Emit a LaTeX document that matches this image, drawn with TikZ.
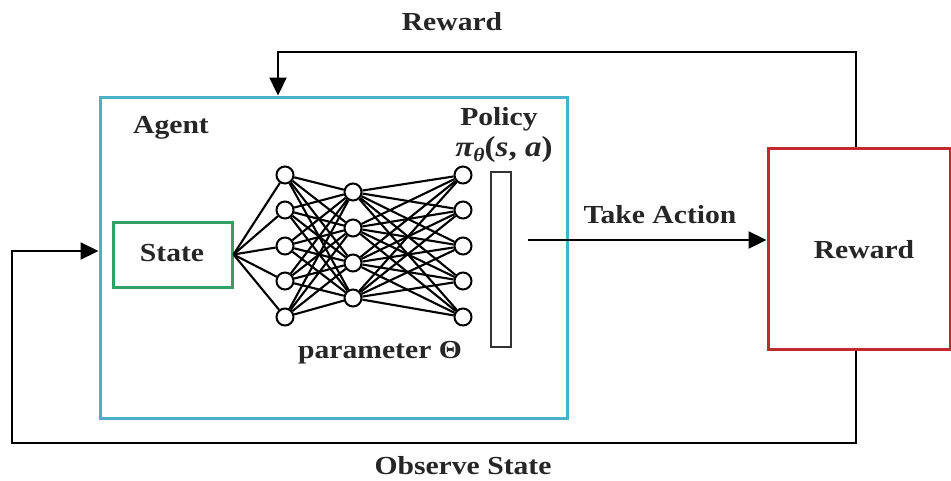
\documentclass[tikz,border=0pt]{standalone}
\usepackage{fontspec}
\setmainfont[FakeStretch=1.14]{Liberation Serif}
\usetikzlibrary{arrows.meta}
\definecolor{agentblue}{RGB}{72,178,206}
\definecolor{stategreen}{RGB}{52,160,100}
\definecolor{envred}{RGB}{196,40,48}
\tikzset{
  lbl/.style={font=\fontsize{26}{30}\selectfont\bfseries, inner sep=0pt, text=black!85},
  frame/.style={draw, line width=3pt, inner sep=0pt},
  neuron/.style={circle, draw, line width=2pt, fill=white, minimum size=17pt, inner sep=0pt},
  wire/.style={line width=2.1pt},
  flow/.style={line width=2.3pt, -{Triangle[length=18pt,width=17pt]}},
}
\begin{document}
\begin{tikzpicture}[x=1pt,y=-1pt]
\useasboundingbox (0,0) rectangle (951,480);
\fill[white] (0,0) rectangle (951,480);

% agent and environment boxes
\node[frame, draw=agentblue, minimum width=467pt, minimum height=321pt] (agent) at (333.5,257.5) {};
\node[frame, draw=envred, minimum width=182pt, minimum height=201pt] (env) at (859,248.5) {};
\node[lbl] (envtext) at (864,250) {Reward};
\node[frame, draw=stategreen, minimum width=119pt, minimum height=65pt] (state) at (172.5,254.5) {};
\node[lbl] (statetext) at (172,253) {State};
\node[draw, line width=2pt, draw=black!80, minimum width=20pt, minimum height=175pt, inner sep=0pt] (policy) at (501,259.5) {};

% labels
\node[lbl] (agenttext) at (171,128) {Agent};
\node[lbl] (policytext) at (499,119) {Policy};
\node[lbl, font=\fontsize{29}{32}\selectfont\bfseries] (pitext) at (504,150) {\itshape π\raisebox{-0.35ex}{\fontsize{19}{20}\selectfont θ}\upshape(\itshape s\upshape, \itshape a\upshape)};
\node[lbl] (paramtext) at (380,353) {parameter Θ};
\node[lbl] (acttext) at (660,215) {Take Action};
\node[lbl] (rewardtext) at (452,22) {Reward};
\node[lbl] (obstext) at (463,466) {Observe State};

% network layers
\foreach \i/\y in {1/175,2/210,3/246,4/281,5/317} {
  \node[neuron] (a\i) at (285,\y) {};
  \node[neuron] (c\i) at (463,\y) {};
}
\foreach \i/\y in {1/192,2/228,3/263,4/298} {
  \node[neuron] (b\i) at (353,\y) {};
}
\foreach \i in {1,...,5} {
  \draw[wire] (state.east) -- (a\i);
  \foreach \j in {1,...,4} {
    \draw[wire] (a\i) -- (b\j);
    \draw[wire] (b\j) -- (c\i);
  }
}

% action arrow
\coordinate (actstart) at (528,240);
\draw[flow] (actstart) -- (env.west |- actstart);

% reward feedback
\coordinate (rtop) at (856,52);
\coordinate (ltop) at (278,52);
\draw[flow] (env.north -| rtop) -- (rtop) -- (ltop) -- (agent.north -| ltop);

% observed state feedback
\coordinate (rbot) at (856,443);
\coordinate (lbot) at (12,443);
\coordinate (lmid) at (12,251);
\draw[flow] (env.south -| rbot) -- (rbot) -- (lbot) -- (lmid) -- (agent.west |- lmid);
\end{tikzpicture}
\end{document}
